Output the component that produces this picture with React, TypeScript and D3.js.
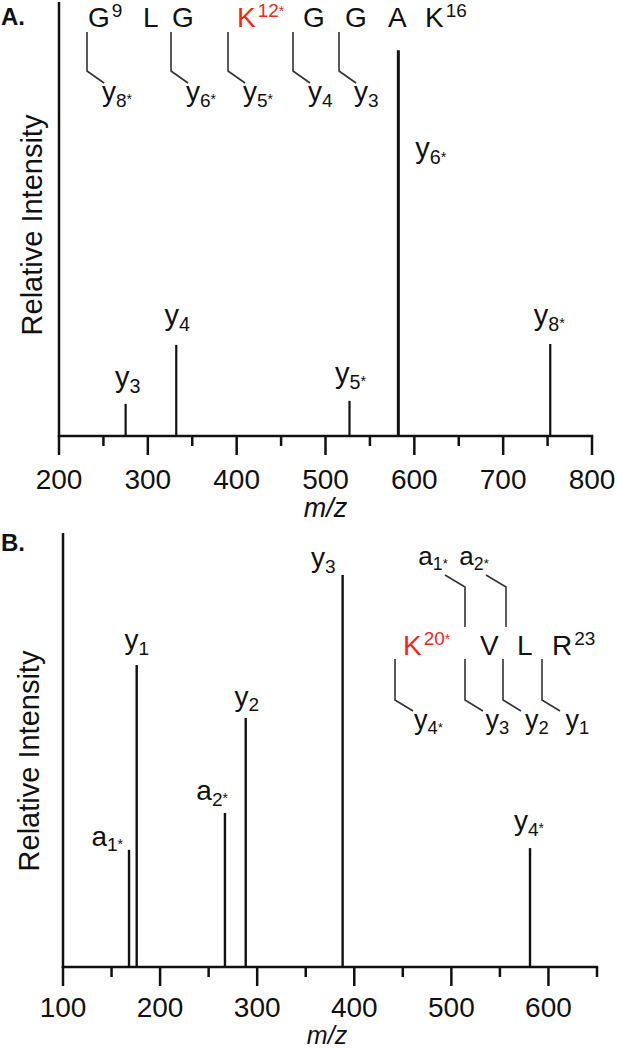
import React from 'react';
import * as d3 from 'd3';

// ---------- Panel A data ----------
const mzA = [275, 332, 527, 582, 753];
const intA = [7.4, 21.0, 8.1, 88.9, 21.2];
const ionA = ['y', 'y', 'y', 'y', 'y'];
const subA = ['3', '4', '5', '6', '8'];
const starA = [false, false, true, true, true];
const ticksA = [200, 300, 400, 500, 600, 700, 800];
const minorA = [250, 350, 450, 550, 650, 750];

// sequence A
const seqA = ['G', 'L', 'G', 'K', 'G', 'G', 'A', 'K'];
const seqASup = ['9', '', '', '12', '', '', '', '16'];
const seqAMod = [false, false, false, true, false, false, false, false];
const fragASub = ['8', '6', '5', '4', '3'];
const fragAStar = [true, true, true, false, false];

// ---------- Panel B data ----------
const mzB = [168, 175.9, 266.8, 288.2, 388, 581];
const intB = [27.0, 69.6, 35.5, 57.4, 90.3, 27.4];
const ionB = ['a', 'y', 'a', 'y', 'y', 'y'];
const subB = ['1', '1', '2', '2', '3', '4'];
const starB = [true, false, true, false, false, true];
const ticksB = [100, 200, 300, 400, 500, 600];
const minorB = [150, 250, 350, 450, 550, 650];

// sequence B
const seqB = ['K', 'V', 'L', 'R'];
const seqBSup = ['20', '', '', '23'];
const seqBMod = [true, false, false, false];
const fragBNSub = ['1', '2'];
const fragBYSub = ['4', '3', '2', '1'];
const fragBYStar = [true, false, false, false];

// ---------- layout (styling) ----------
const FONT = 'Liberation Sans, Arial, Helvetica, sans-serif';
const RED = '#f2261c';
const labelPlaceA = [
  { dx: 2, dy: -17, anchor: 'middle' },
  { dx: 1, dy: -20, anchor: 'middle' },
  { dx: 1, dy: -18, anchor: 'middle' },
  { dx: 17, dy: 108, anchor: 'start' },
  { dx: -1, dy: -19, anchor: 'middle' },
];
const labelPlaceB = [
  { dx: -6, dy: -4, anchor: 'end' },
  { dx: 0, dy: -16, anchor: 'middle' },
  { dx: 3, dy: -13, anchor: 'end' },
  { dx: 1, dy: -12, anchor: 'middle' },
  { dx: -7, dy: -8, anchor: 'end' },
  { dx: -1, dy: -18, anchor: 'middle' },
];
const seqAX = [88, 143, 172, 237, 303, 345, 388, 425];
const bracketAX = [87, 171, 228, 293, 339];
const seqBX = [403, 480, 517, 552];
const bracketBNX = [465, 506];
const bracketBYX = [395, 465, 503, 542];

function IonLabel({ x, y, ion, sub, star, fs, anchor }: any) {
  return (
    <text x={x} y={y} fontSize={fs} textAnchor={anchor} fill="#111">
      <tspan>{ion}</tspan>
      <tspan fontSize={fs * 0.68} dy={fs * 0.2}>{sub}</tspan>
      {star ? <tspan fontSize={fs * 0.5} dy={-fs * 0.08}>*</tspan> : null}
    </text>
  );
}

function Spectrum({ mz, inten, ion, sub, star, place, xDomain, xRange, base, top, ticks, minor, fs, peakW, tickDy }: any) {
  const x = d3.scaleLinear().domain(xDomain).range(xRange);
  const y = d3.scaleLinear().domain([0, 100]).range([base, top]);
  return (
    <g>
      <line x1={xRange[0]} x2={xRange[0]} y1={top} y2={base + 1} stroke="#111" strokeWidth={2.5} />
      <line x1={xRange[0] - 1.2} x2={xRange[1] + 1.2} y1={base} y2={base} stroke="#111" strokeWidth={2.5} />
      {ticks.map((t: number) => (
        <g key={'t' + t}>
          <line x1={x(t)} x2={x(t)} y1={base} y2={base + 19} stroke="#111" strokeWidth={2.5} />
          <text x={x(t)} y={base + tickDy} fontSize={28} textAnchor="middle" fill="#111">{t}</text>
        </g>
      ))}
      {minor.map((t: number) => (
        <line key={'m' + t} x1={x(t)} x2={x(t)} y1={base} y2={base + 10} stroke="#111" strokeWidth={2.5} />
      ))}
      {mz.map((m: number, i: number) => (
        <line key={'p' + i} x1={x(m)} x2={x(m)} y1={base} y2={y(inten[i])} stroke="#111" strokeWidth={peakW[i]} />
      ))}
      {mz.map((m: number, i: number) => (
        <IonLabel key={'l' + i} x={x(m) + place[i].dx} y={y(inten[i]) + place[i].dy}
          ion={ion[i]} sub={sub[i]} star={star[i]} fs={fs} anchor={place[i].anchor} />
      ))}
    </g>
  );
}

function Residue({ x, y, letter, sup, red, fs }: any) {
  return (
    <text x={x} y={y} fontSize={fs} fill={red ? RED : '#111'}>
      <tspan>{letter}</tspan>
      {sup ? <tspan fontSize={fs * 0.68} dy={-fs * 0.36} dx={2}>{sup}</tspan> : null}
      {red ? <tspan fontSize={fs * 0.5} dy={-fs * 0.02}>*</tspan> : null}
    </text>
  );
}

export default function App() {
  const bracket = '#333';
  return (
    <svg width={617} height={1050} style={{ position: 'absolute', left: 0, top: 0, background: '#fff' }}
      fontFamily={FONT}>
      <rect width={617} height={1050} fill="#fff" />
      {/* ---------- Panel A ---------- */}
      <text x={1} y={25} fontSize={24} fontWeight="bold" fill="#111">A.</text>
      <text transform="translate(42,225) rotate(-90)" fontSize={29} textAnchor="middle" fill="#111">Relative Intensity</text>
      <Spectrum mz={mzA} inten={intA} ion={ionA} sub={subA} star={starA} place={labelPlaceA}
        xDomain={[200, 800]} xRange={[59, 592]} base={436} top={2} tickDy={53}
        ticks={ticksA} minor={minorA} fs={29} peakW={[2.2, 2.2, 2.2, 3, 2.2]} />
      <text x={(59 + 592) / 2} y={517} fontSize={27} fontStyle="italic" textAnchor="middle" fill="#111">m/z</text>
      {seqA.map((r, i) => (
        <Residue key={'ra' + i} x={seqAX[i]} y={27} letter={r} sup={seqASup[i]} red={seqAMod[i]} fs={28} />
      ))}
      {bracketAX.map((v, k) => (
        <g key={'fa' + k}>
          <polyline points={`${v},32 ${v},71 ${v + 17},83`} fill="none" stroke={bracket} strokeWidth={1.6} />
          <IonLabel x={v + 15} y={101} ion="y" sub={fragASub[k]} star={fragAStar[k]} fs={28} anchor="start" />
        </g>
      ))}

      {/* ---------- Panel B ---------- */}
      <text x={1} y={551} fontSize={24} fontWeight="bold" fill="#111">B.</text>
      <text transform="translate(39,761) rotate(-90)" fontSize={29} textAnchor="middle" fill="#111">Relative Intensity</text>
      <Spectrum mz={mzB} inten={intB} ion={ionB} sub={subB} star={starB} place={labelPlaceB}
        xDomain={[100, 650]} xRange={[63, 597]} base={967} top={533} tickDy={50}
        ticks={ticksB} minor={minorB} fs={28} peakW={[2.4, 2.4, 2.4, 2.4, 2.4, 2.4]} />
      <text x={(63 + 597) / 2 - 3} y={1044} fontSize={25} fontStyle="italic" textAnchor="middle" fill="#111">m/z</text>
      {seqB.map((r, i) => (
        <Residue key={'rb' + i} x={seqBX[i]} y={655} letter={r} sup={seqBSup[i]} red={seqBMod[i]} fs={28} />
      ))}
      {bracketBNX.map((v, k) => (
        <g key={'fbn' + k}>
          <polyline points={`${v - 20},575 ${v},587 ${v},627`} fill="none" stroke={bracket} strokeWidth={1.6} />
          <IonLabel x={v - 32} y={565} ion="a" sub={fragBNSub[k]} star={true} fs={26} anchor="middle" />
        </g>
      ))}
      {bracketBYX.map((v, k) => (
        <g key={'fby' + k}>
          <polyline points={`${v},659 ${v},700 ${v + 18},711`} fill="none" stroke={bracket} strokeWidth={1.6} />
          <IonLabel x={v + 19 + k * 1.5} y={729} ion="y" sub={fragBYSub[k]} star={fragBYStar[k]} fs={27} anchor="start" />
        </g>
      ))}
    </svg>
  );
}
